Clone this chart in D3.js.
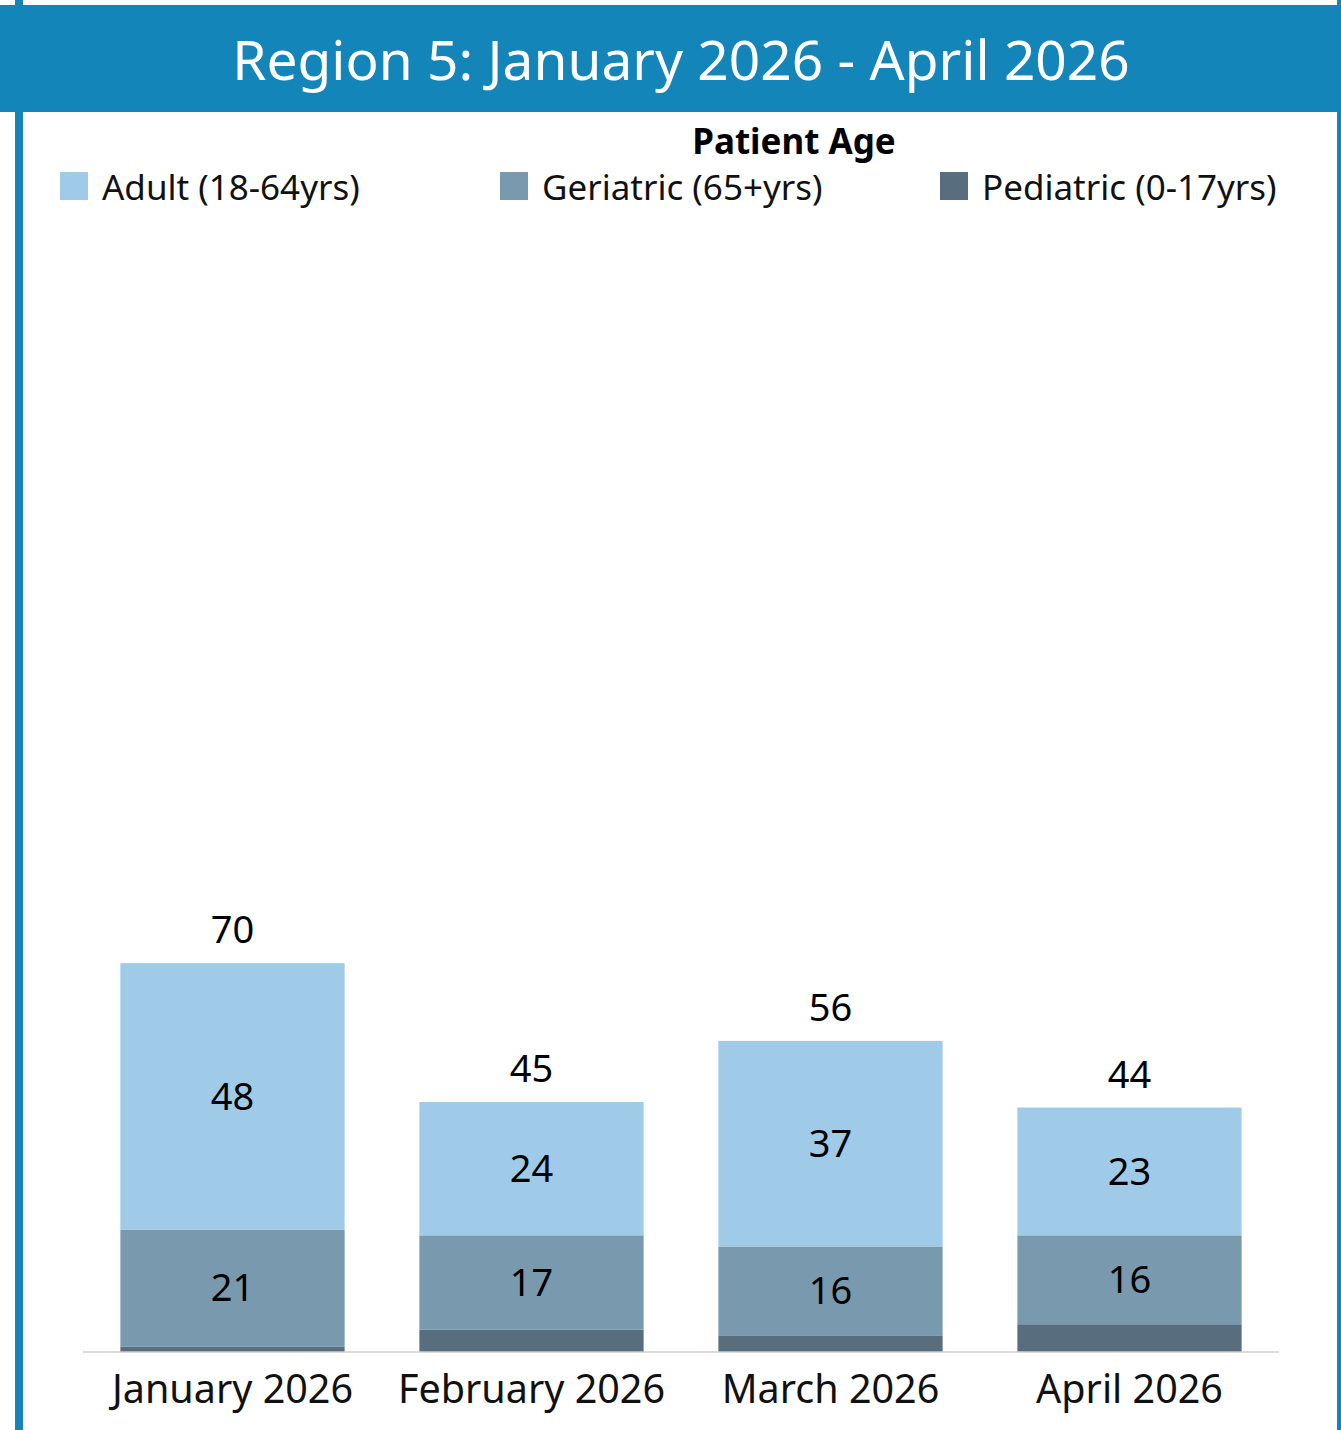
<!DOCTYPE html>
<html>
<head>
<meta charset="utf-8">
<script src="https://cdn.jsdelivr.net/npm/d3@7"></script>
<style>
  html, body { margin: 0; padding: 0; background: #ffffff; }
  svg { display: block; }
  text { font-family: "Noto Sans", "Open Sans", sans-serif; }
</style>
</head>
<body>
<svg id="chart" width="1341" height="1430"></svg>
<script>
// Monthly patient counts by age group
const months = ["January 2026", "February 2026", "March 2026", "April 2026"];
const groups = ["Pediatric (0-17yrs)", "Geriatric (65+yrs)", "Adult (18-64yrs)"];
const pediatric = [1, 4, 3, 5];
const geriatric = [21, 17, 16, 16];
const adult = [48, 24, 37, 23];
const legendOrder = ["Adult (18-64yrs)", "Geriatric (65+yrs)", "Pediatric (0-17yrs)"];
const title = "Region 5: January 2026 - April 2026";
const legendTitle = "Patient Age";
const yMax = 200;

const W = 1341, H = 1430;
const colors = {
  "Adult (18-64yrs)": "#a0cbe8",
  "Geriatric (65+yrs)": "#7899ae",
  "Pediatric (0-17yrs)": "#586e7f"
};

const rows = months.map((m, i) => ({
  month: m,
  "Pediatric (0-17yrs)": pediatric[i],
  "Geriatric (65+yrs)": geriatric[i],
  "Adult (18-64yrs)": adult[i]
}));

const svg = d3.select("#chart");
const blue = "#1485b9";

// Frame: left and right borders plus title banner
svg.append("rect").attr("x", 15).attr("y", 0).attr("width", 8).attr("height", H).attr("fill", blue);
svg.append("rect").attr("x", 1337).attr("y", 0).attr("width", 4).attr("height", H).attr("fill", blue);
svg.append("rect").attr("x", 0).attr("y", 5).attr("width", W).attr("height", 107).attr("fill", blue);
svg.append("text")
  .attr("x", 681).attr("y", 80)
  .attr("text-anchor", "middle")
  .attr("fill", "#ffffff")
  .attr("font-size", 55)
  .text(title);

// Legend
svg.append("text")
  .attr("x", 794).attr("y", 154)
  .attr("text-anchor", "middle")
  .attr("font-weight", "bold")
  .attr("font-size", 35)
  .attr("fill", "#000")
  .text(legendTitle);

const legendX = d3.scalePoint().domain(legendOrder).range([60, 940]);
const lg = svg.append("g").selectAll("g").data(legendOrder).join("g")
  .attr("transform", d => `translate(${legendX(d)},172)`);
lg.append("rect").attr("width", 28).attr("height", 28).attr("fill", d => colors[d]);
lg.append("text").attr("x", 42).attr("y", 28)
  .attr("font-size", 35).attr("fill", "#111").text(d => d);

// Plot scales
const x = d3.scaleBand().domain(months).range([83, 1279]).paddingInner(0.25).paddingOuter(0.125);
const y = d3.scaleLinear().domain([0, yMax]).range([1352, 241]);

const stack = d3.stack().keys(groups)(rows);

const layers = svg.append("g").selectAll("g").data(stack).join("g")
  .attr("fill", d => colors[d.key]);
layers.selectAll("rect").data(d => d).join("rect")
  .attr("x", d => x(d.data.month))
  .attr("width", x.bandwidth())
  .attr("y", d => y(d[1]))
  .attr("height", d => y(d[0]) - y(d[1]));

// Segment labels (adult and geriatric)
const labeled = stack.filter(s => s.key !== "Pediatric (0-17yrs)");
svg.append("g").selectAll("g").data(labeled).join("g")
  .selectAll("text").data(d => d).join("text")
  .attr("x", d => x(d.data.month) + x.bandwidth() / 2)
  .attr("y", d => (y(d[0]) + y(d[1])) / 2)
  .attr("dy", "0.35em")
  .attr("text-anchor", "middle")
  .attr("font-size", 38)
  .attr("fill", "#000")
  .text(d => d[1] - d[0]);

// Totals above bars
const topLayer = stack[stack.length - 1];
svg.append("g").selectAll("text").data(topLayer).join("text")
  .attr("x", d => x(d.data.month) + x.bandwidth() / 2)
  .attr("y", d => y(d[1]) - 20)
  .attr("text-anchor", "middle")
  .attr("font-size", 38)
  .attr("fill", "#000")
  .text(d => d[1]);

// Baseline and month axis
const xAxis = svg.append("g").attr("transform", "translate(0,1352)")
  .call(d3.axisBottom(x).tickSize(0).tickPadding(23));
xAxis.select(".domain").attr("stroke", "#cfcfcf").attr("stroke-width", 1.5)
  .attr("d", "M83,0H1279");
xAxis.selectAll("text")
  .attr("font-size", 39.5)
  .attr("fill", "#111")
  .attr("font-family", "'Noto Sans', 'Open Sans', sans-serif");
</script>
</body>
</html>
